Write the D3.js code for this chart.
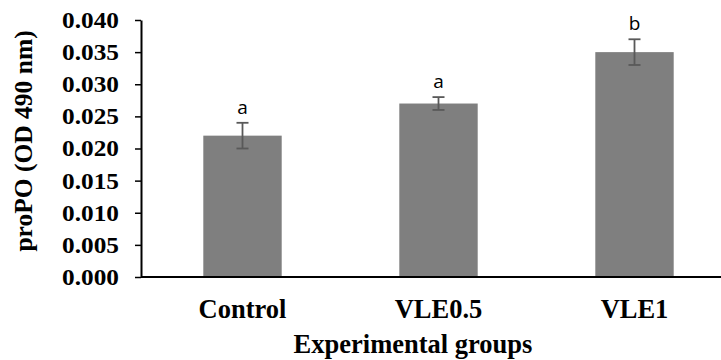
<!DOCTYPE html>
<head>
    <meta charset="utf-8">
    <script src="https://d3js.org/d3.v7.min.js"></script>
    <style>
        body { margin:0; background:#fff; }
        .tick text { font-family: "Liberation Serif", "Times New Roman", serif; font-weight: bold; }
    </style>
</head>
<body>
<script>
    // chart values
    var groups = ["Control", "VLE0.5", "VLE1"];
    var means = [0.022, 0.027, 0.035];
    var errors = [0.002, 0.001, 0.002];
    var letters = ["a", "a", "b"];
    var yTicks = [0, 0.005, 0.010, 0.015, 0.020, 0.025, 0.030, 0.035, 0.040];

    var width = 721, height = 360;
    var serif = "'Liberation Serif', 'Times New Roman', serif";

    var svg = d3.select("body").append("svg")
        .attr("width", width)
        .attr("height", height);

    var y = d3.scaleLinear().domain([0, 0.04]).range([277, 20]);
    var x = d3.scaleBand().domain(groups)
        .range([144.5, 732.5])
        .paddingInner(0.6)
        .paddingOuter(0.3);

    // y axis
    var yAxis = svg.append("g")
        .attr("transform", "translate(141,0)")
        .call(d3.axisLeft(y).tickValues(yTicks).tickFormat(d3.format(".3f"))
            .tickSize(6).tickSizeOuter(0).tickPadding(16));
    yAxis.select(".domain").attr("stroke-width", 2);
    yAxis.selectAll(".tick line").attr("stroke-width", 1.5);
    yAxis.selectAll(".tick text")
        .attr("font-size", 23)
        .attr("fill", "#000")
        .each(function() {
            // labels in the picture are a bit wider than the plain font
            var w = this.getComputedTextLength();
            d3.select(this).attr("textLength", w * 1.1).attr("lengthAdjust", "spacingAndGlyphs");
        });

    // bars
    svg.selectAll("rect.bar")
        .data(groups)
        .enter().append("rect")
        .attr("class", "bar")
        .attr("x", function(d) { return x(d); })
        .attr("width", x.bandwidth())
        .attr("y", function(d, i) { return y(means[i]); })
        .attr("height", function(d, i) { return y(0) - y(means[i]); })
        .attr("fill", "#7f7f7f");

    // error bars
    var eb = svg.selectAll("g.err")
        .data(groups)
        .enter().append("g")
        .attr("class", "err")
        .attr("stroke", "#595959")
        .attr("stroke-width", 1.8);
    eb.append("line")
        .attr("x1", function(d) { return x(d) + x.bandwidth() / 2; })
        .attr("x2", function(d) { return x(d) + x.bandwidth() / 2; })
        .attr("y1", function(d, i) { return y(means[i] + errors[i]); })
        .attr("y2", function(d, i) { return y(means[i] - errors[i]); });
    eb.append("line")
        .attr("x1", function(d) { return x(d) + x.bandwidth() / 2 - 6; })
        .attr("x2", function(d) { return x(d) + x.bandwidth() / 2 + 6; })
        .attr("y1", function(d, i) { return y(means[i] + errors[i]); })
        .attr("y2", function(d, i) { return y(means[i] + errors[i]); });
    eb.append("line")
        .attr("x1", function(d) { return x(d) + x.bandwidth() / 2 - 6; })
        .attr("x2", function(d) { return x(d) + x.bandwidth() / 2 + 6; })
        .attr("y1", function(d, i) { return y(means[i] - errors[i]); })
        .attr("y2", function(d, i) { return y(means[i] - errors[i]); });

    // significance letters
    svg.selectAll("text.sig")
        .data(groups)
        .enter().append("text")
        .attr("class", "sig")
        .attr("x", function(d) { return x(d) + x.bandwidth() / 2; })
        .attr("y", function(d, i) { return y(means[i] + errors[i]) - 9; })
        .attr("text-anchor", "middle")
        .attr("font-family", "'Open Sans', 'Noto Sans', sans-serif")
        .attr("font-size", 19)
        .attr("fill", "#000")
        .text(function(d, i) { return letters[i]; });

    // x axis line
    svg.append("line")
        .attr("x1", 141).attr("x2", width)
        .attr("y1", y(0)).attr("y2", y(0))
        .attr("stroke", "#000")
        .attr("stroke-width", 2);

    // x category labels
    svg.selectAll("text.cat")
        .data(groups)
        .enter().append("text")
        .attr("class", "cat")
        .attr("x", function(d) { return x(d) + x.bandwidth() / 2; })
        .attr("y", 318)
        .attr("text-anchor", "middle")
        .attr("font-family", serif)
        .attr("font-weight", "bold")
        .attr("font-size", 26.5)
        .text(function(d) { return d; });

    // axis titles
    svg.append("text")
        .attr("x", 413)
        .attr("y", 353)
        .attr("text-anchor", "middle")
        .attr("font-family", serif)
        .attr("font-weight", "bold")
        .attr("font-size", 26.5)
        .text("Experimental groups");

    svg.append("text")
        .attr("transform", "translate(32,141) rotate(-90)")
        .attr("text-anchor", "middle")
        .attr("font-family", serif)
        .attr("font-weight", "bold")
        .attr("font-size", 25.5)
        .text("proPO (OD 490 nm)");
</script>
</body>
